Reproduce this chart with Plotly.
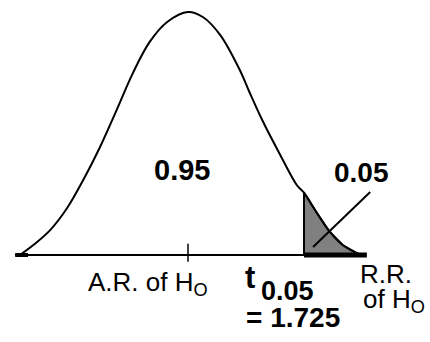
import plotly.graph_objects as go

# t-distribution curve (t value, density)
t_vals = [-2.50, -2.30, -2.05, -1.80, -1.56, -1.31, -1.06, -0.82, -0.57, -0.31,
          0.00, 0.22, 0.48, 0.77, 0.92, 1.12, 1.37, 1.62, 1.725, 1.92, 2.11,
          2.30, 2.51, 2.60]
dens_vals = [0.000, 0.016, 0.040, 0.075, 0.120, 0.173, 0.233, 0.292, 0.342, 0.374,
             0.390, 0.382, 0.353, 0.297, 0.260, 0.213, 0.161, 0.112, 0.100, 0.067,
             0.037, 0.016, 0.003, 0.000]

t_crit = 1.725
alpha = 0.05
axis_left = -2.57
axis_right = 2.66

FONT = "Liberation Sans, Arial, sans-serif"

fig = go.Figure()

# rejection region shading
tail_x = [t for t in t_vals if t >= t_crit]
tail_y = [d for t, d in zip(t_vals, dens_vals) if t >= t_crit]
fig.add_trace(go.Scatter(
    x=[t_crit] + tail_x + [t_crit], y=[0] + tail_y + [0],
    mode="lines", fill="toself", fillcolor="#808080",
    line=dict(color="black", width=2), hoverinfo="skip"
))

# baseline: acceptance (thin) and rejection (thick)
fig.add_trace(go.Scatter(
    x=[axis_left, t_crit], y=[0, 0], mode="lines",
    line=dict(color="black", width=2), hoverinfo="skip"
))
fig.add_trace(go.Scatter(
    x=[axis_left, t_vals[0] + 0.12], y=[0, 0], mode="lines",
    line=dict(color="black", width=4), hoverinfo="skip"
))
fig.add_trace(go.Scatter(
    x=[t_crit, axis_right], y=[0, 0], mode="lines",
    line=dict(color="black", width=5), hoverinfo="skip"
))

# tick at the mean
fig.add_trace(go.Scatter(
    x=[0, 0], y=[-0.011, 0.018], mode="lines",
    line=dict(color="black", width=1.5), hoverinfo="skip"
))

# density curve
fig.add_trace(go.Scatter(
    x=t_vals, y=dens_vals, mode="lines", line_shape="spline",
    line=dict(color="black", width=2), hoverinfo="skip"
))

# pointer to the tail area
fig.add_trace(go.Scatter(
    x=[2.71, 1.86], y=[0.101, 0.013], mode="lines",
    line=dict(color="black", width=2), hoverinfo="skip"
))


def px(x, y):
    return x / 430, 1 - y / 342


def label(text, x, y, size, bold=False, xanchor="center"):
    ax, ay = px(x, y)
    if bold:
        text = "<b>" + text + "</b>"
    fig.add_annotation(x=ax, y=ay, xref="paper", yref="paper", text=text,
                       showarrow=False, xanchor=xanchor, yanchor="middle",
                       font=dict(family=FONT, size=size, color="black"))


label("%.2f" % (1 - alpha), 182, 170, 29, bold=True)
label("%.2f" % alpha, 361, 172, 28, bold=True)
label("A.R. of H<sub>O</sub>", 86, 283, 26, xanchor="left")
label("R.R.", 358, 274, 26, xanchor="left")
label("of H<sub>O</sub>", 361, 300, 26, xanchor="left")
label("t", 250, 277, 31, bold=True)
label("%.2f" % alpha, 287, 291, 27, bold=True)
label("= %.3f" % t_crit, 293, 317, 28, bold=True)

fig.update_layout(
    width=430, height=342,
    margin=dict(l=0, r=0, t=0, b=0),
    showlegend=False,
    plot_bgcolor="white", paper_bgcolor="white",
    xaxis=dict(range=[-2.796, 3.599], visible=False),
    yaxis=dict(range=[-0.1396, 0.4093], visible=False),
)

fig.write_html("out.html", config={"displayModeBar": False},
               post_script="document.body.style.margin = '0';")
